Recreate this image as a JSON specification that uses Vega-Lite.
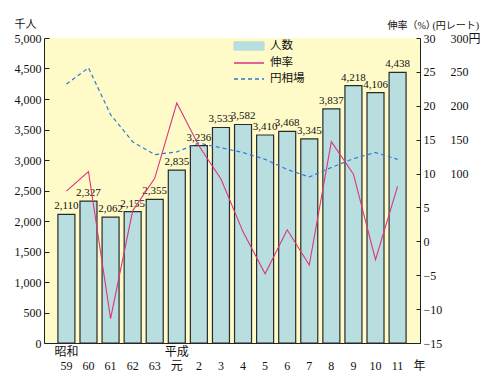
{
  "$schema": "https://vega.github.io/schema/vega-lite/v6.json",
  "width": 376,
  "height": 305,
  "autosize": {"type": "none"},
  "padding": {"left": 44, "top": 38, "right": 80, "bottom": 42},
  "background": "white",
  "config": {
    "view": {"fill": "#FFFBC8", "stroke": null},
    "font": "Liberation Serif, Noto Sans CJK JP",
    "axis": {
      "grid": false,
      "labelFont": "Liberation Serif, Noto Sans CJK JP",
      "titleFont": "Liberation Serif, Noto Sans CJK JP",
      "labelColor": "#111",
      "titleColor": "#111",
      "domainColor": "#222",
      "tickColor": "#222",
      "labelFontSize": 12,
      "titleFontWeight": "normal"
    },
    "legend": {
      "orient": "none",
      "legendX": 199,
      "legendY": 2,
      "padding": 0,
      "symbolSize": 100,
      "labelOffset": 15,
      "labelFont": "Noto Sans CJK JP",
      "labelFontSize": 11.5,
      "labelColor": "#111",
      "rowPadding": 4
    }
  },
  "data": {
    "values": [
      {"year": "59", "visitors": 2110, "growth": 7.4, "yen": 232},
      {"year": "60", "visitors": 2327, "growth": 10.3, "yen": 256},
      {"year": "61", "visitors": 2062, "growth": -11.4, "yen": 187},
      {"year": "62", "visitors": 2155, "growth": 4.5, "yen": 147},
      {"year": "63", "visitors": 2355, "growth": 9.3, "yen": 128},
      {"year": "元", "visitors": 2835, "growth": 20.4, "yen": 132},
      {"year": "2", "visitors": 3236, "growth": 14.1, "yen": 145},
      {"year": "3", "visitors": 3533, "growth": 9.2, "yen": 138},
      {"year": "4", "visitors": 3582, "growth": 1.4, "yen": 131},
      {"year": "5", "visitors": 3410, "growth": -4.8, "yen": 121},
      {"year": "6", "visitors": 3468, "growth": 1.7, "yen": 106},
      {"year": "7", "visitors": 3345, "growth": -3.5, "yen": 95},
      {"year": "8", "visitors": 3837, "growth": 14.7, "yen": 109},
      {"year": "9", "visitors": 4218, "growth": 9.9, "yen": 122},
      {"year": "10", "visitors": 4106, "growth": -2.7, "yen": 131},
      {"year": "11", "visitors": 4438, "growth": 8.1, "yen": 121}
    ]
  },
  "encoding": {
    "x": {
      "field": "year",
      "type": "nominal",
      "sort": null,
      "scale": {"paddingInner": 0.23, "paddingOuter": 0.63},
      "axis": {
        "title": "年",
        "titleX": 375,
        "titleY": 22,
        "titleAlign": "center",
        "titleBaseline": "middle",
        "titleFontSize": 12,
        "labelAngle": 0,
        "ticks": false,
        "labelPadding": 3,
        "labelBaseline": "top",
        "labelLineHeight": 14,
        "labelExpr": "datum.label == '59' ? ['昭和', '59'] : (datum.label == '元' ? ['平成', '元'] : ['', datum.label])"
      }
    }
  },
  "layer": [
    {
      "encoding": {
        "y": {
          "field": "visitors",
          "type": "quantitative",
          "scale": {"domain": [0, 5000]},
          "axis": {
            "values": [0, 500, 1000, 1500, 2000, 2500, 3000, 3500, 4000, 4500, 5000],
            "format": ",.0f",
            "tickSize": -5,
            "labelPadding": 8,
            "title": "千人",
            "titleAngle": 0,
            "titleAlign": "left",
            "titleBaseline": "bottom",
            "titleX": -30,
            "titleY": -9,
            "titleFontSize": 11
          }
        }
      },
      "layer": [
        {
          "mark": {"type": "bar", "stroke": "#2a2a2a", "strokeWidth": 1.2},
          "encoding": {
            "color": {
              "datum": "人数",
              "scale": {"domain": ["人数", "伸率", "円相場"], "range": ["#B8DEE0", "#DB3580", "#3079D6"]},
              "legend": {
                "title": null,
                "encode": {
                  "symbols": {
                    "update": {
                      "shape": {"signal": "datum.value === '人数' ? 'M-3,-0.8H3V0.8H-3Z' : 'M-3,0H3'"},
                      "fill": {"signal": "datum.value === '人数' ? '#B8DEE0' : 'transparent'"},
                      "stroke": {"signal": "datum.value === '人数' ? '#222' : (datum.value === '伸率' ? '#DB3580' : '#3079D6')"},
                      "strokeDash": {"signal": "datum.value === '円相場' ? [4, 3] : [1, 0]"},
                      "strokeWidth": {"value": 1.3},
                      "opacity": {"value": 1}
                    }
                  }
                }
              }
            }
          }
        },
        {
          "mark": {"type": "text", "baseline": "bottom", "dy": -3, "fontSize": 11, "font": "Liberation Serif", "color": "#111"},
          "encoding": {
            "text": {"field": "visitors", "type": "quantitative", "format": ","}
          }
        }
      ]
    },
    {
      "mark": {"type": "line", "strokeWidth": 1.1},
      "encoding": {
        "y": {
          "field": "growth",
          "type": "quantitative",
          "scale": {"domain": [-15, 30]},
          "axis": {
            "orient": "right",
            "values": [-15, -10, -5, 0, 5, 10, 15, 20, 25, 30],
            "tickSize": -4,
            "labelPadding": 7,
            "title": "伸率（%）",
            "titleAngle": 0,
            "titleAlign": "left",
            "titleBaseline": "bottom",
            "titleX": -33,
            "titleY": -8,
            "titleFontSize": 10
          }
        },
        "color": {
          "datum": "伸率",
          "legend": {
            "title": null,
            "encode": {
              "symbols": {
                "update": {
                  "shape": {"signal": "datum.value === '人数' ? 'M-3,-0.8H3V0.8H-3Z' : 'M-3,0H3'"},
                  "fill": {"signal": "datum.value === '人数' ? '#B8DEE0' : 'transparent'"},
                  "stroke": {"signal": "datum.value === '人数' ? '#222' : (datum.value === '伸率' ? '#DB3580' : '#3079D6')"},
                  "strokeDash": {"signal": "datum.value === '円相場' ? [4, 3] : [1, 0]"},
                  "strokeWidth": {"value": 1.3},
                  "opacity": {"value": 1}
                }
              }
            }
          }
        }
      }
    },
    {
      "mark": {"type": "line", "strokeWidth": 1.2, "strokeDash": [4, 3]},
      "encoding": {
        "y": {
          "field": "yen",
          "type": "quantitative",
          "scale": {"domain": [-150, 300]},
          "axis": {
            "orient": "right",
            "offset": 28,
            "domain": false,
            "ticks": false,
            "labelPadding": 2,
            "values": [100, 150, 200, 250, 300],
            "labelExpr": "datum.value == 300 ? '300円' : datum.label",
            "title": "(円レート)",
            "titleAngle": 0,
            "titleAlign": "left",
            "titleBaseline": "bottom",
            "titleX": -16,
            "titleY": -8,
            "titleFontSize": 10
          }
        },
        "color": {
          "datum": "円相場",
          "legend": {
            "title": null,
            "encode": {
              "symbols": {
                "update": {
                  "shape": {"signal": "datum.value === '人数' ? 'M-3,-0.8H3V0.8H-3Z' : 'M-3,0H3'"},
                  "fill": {"signal": "datum.value === '人数' ? '#B8DEE0' : 'transparent'"},
                  "stroke": {"signal": "datum.value === '人数' ? '#222' : (datum.value === '伸率' ? '#DB3580' : '#3079D6')"},
                  "strokeDash": {"signal": "datum.value === '円相場' ? [4, 3] : [1, 0]"},
                  "strokeWidth": {"value": 1.3},
                  "opacity": {"value": 1}
                }
              }
            }
          }
        }
      }
    }
  ],
  "resolve": {"scale": {"y": "independent"}}
}
